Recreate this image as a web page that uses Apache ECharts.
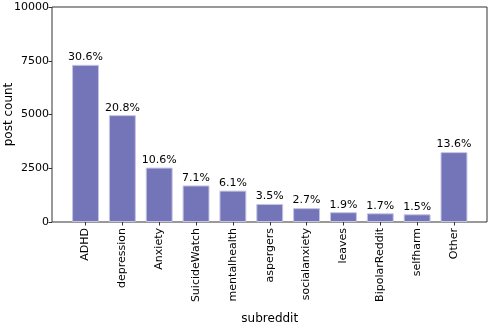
<!DOCTYPE html>
<html><head><meta charset="utf-8">
<script src="https://cdn.jsdelivr.net/npm/echarts@6/dist/echarts.min.js"></script>
<style>html,body{margin:0;padding:0;background:#fff}#c{width:488px;height:322px}</style>
</head><body><div id="c"></div>
<script>
const categories = ['ADHD','depression','Anxiety','SuicideWatch','mentalhealth','aspergers','socialanxiety','leaves','BipolarReddit','selfharm','Other'];
const postCounts = [7310, 4970, 2530, 1700, 1460, 840, 645, 455, 405, 360, 3250];
const percentLabels = ['30.6%','20.8%','10.6%','7.1%','6.1%','3.5%','2.7%','1.9%','1.7%','1.5%','13.6%'];
const yTicks = [0, 2500, 5000, 7500, 10000];

const font = 'DejaVu Sans';
const chart = echarts.init(document.getElementById('c'), null, {renderer:'canvas'});
chart.setOption({
  animation: false,
  textStyle: {fontFamily: font},
  grid: [
    {left: 52, right: 1, top: 7, bottom: 100, show: true, borderColor: '#333', borderWidth: 1, backgroundColor: 'rgba(0,0,0,0)', outerBoundsMode: 'none', containLabel: false},
    {left: 67.1, right: 15.6, top: 7, bottom: 100, outerBoundsMode: 'none', containLabel: false}
  ],
  xAxis: [
    {gridIndex: 0, type: 'value', min: 0, max: 1, axisLine: {show: false}, axisTick: {show: false}, axisLabel: {show: false}, splitLine: {show: false}},
    {gridIndex: 1, type: 'category', data: categories,
     name: 'subreddit', nameLocation: 'middle', nameGap: 91, nameMoveOverlap: false,
     nameTextStyle: {fontFamily: font, fontSize: 12, color: '#000'},
     axisLine: {show: false},
     axisTick: {show: true, alignWithLabel: true, length: 3.5, lineStyle: {color: '#333'}},
     axisLabel: {rotate: 90, interval: 0, margin: 6, fontFamily: font, fontSize: 11, color: '#000'}}
  ],
  yAxis: [
    {gridIndex: 0, type: 'value', min: 0, max: 1, axisLine: {show: false}, axisTick: {show: false}, axisLabel: {show: false}, splitLine: {show: false}},
    {gridIndex: 1, type: 'value', min: yTicks[0], max: yTicks[yTicks.length-1], interval: 2500, offset: 15.1,
     name: 'post count', nameLocation: 'middle', nameGap: 37, nameMoveOverlap: false,
     nameTextStyle: {fontFamily: font, fontSize: 12, color: '#000'},
     axisLine: {show: false},
     axisTick: {show: true, length: 3.5, lineStyle: {color: '#333'}},
     splitLine: {show: false},
     axisLabel: {margin: 3, fontFamily: font, fontSize: 11, color: '#000', formatter: v => String(v)}}
  ],
  series: [{
    type: 'bar', xAxisIndex: 1, yAxisIndex: 1,
    data: postCounts,
    barWidth: '73%',
    itemStyle: {color: '#7474b9', borderColor: '#c5c5e3', borderWidth: 1},
    label: {show: true, position: 'top', distance: 2, fontFamily: font, fontSize: 11, color: '#000',
            formatter: p => percentLabels[p.dataIndex]}
  }]
});
</script></body></html>
